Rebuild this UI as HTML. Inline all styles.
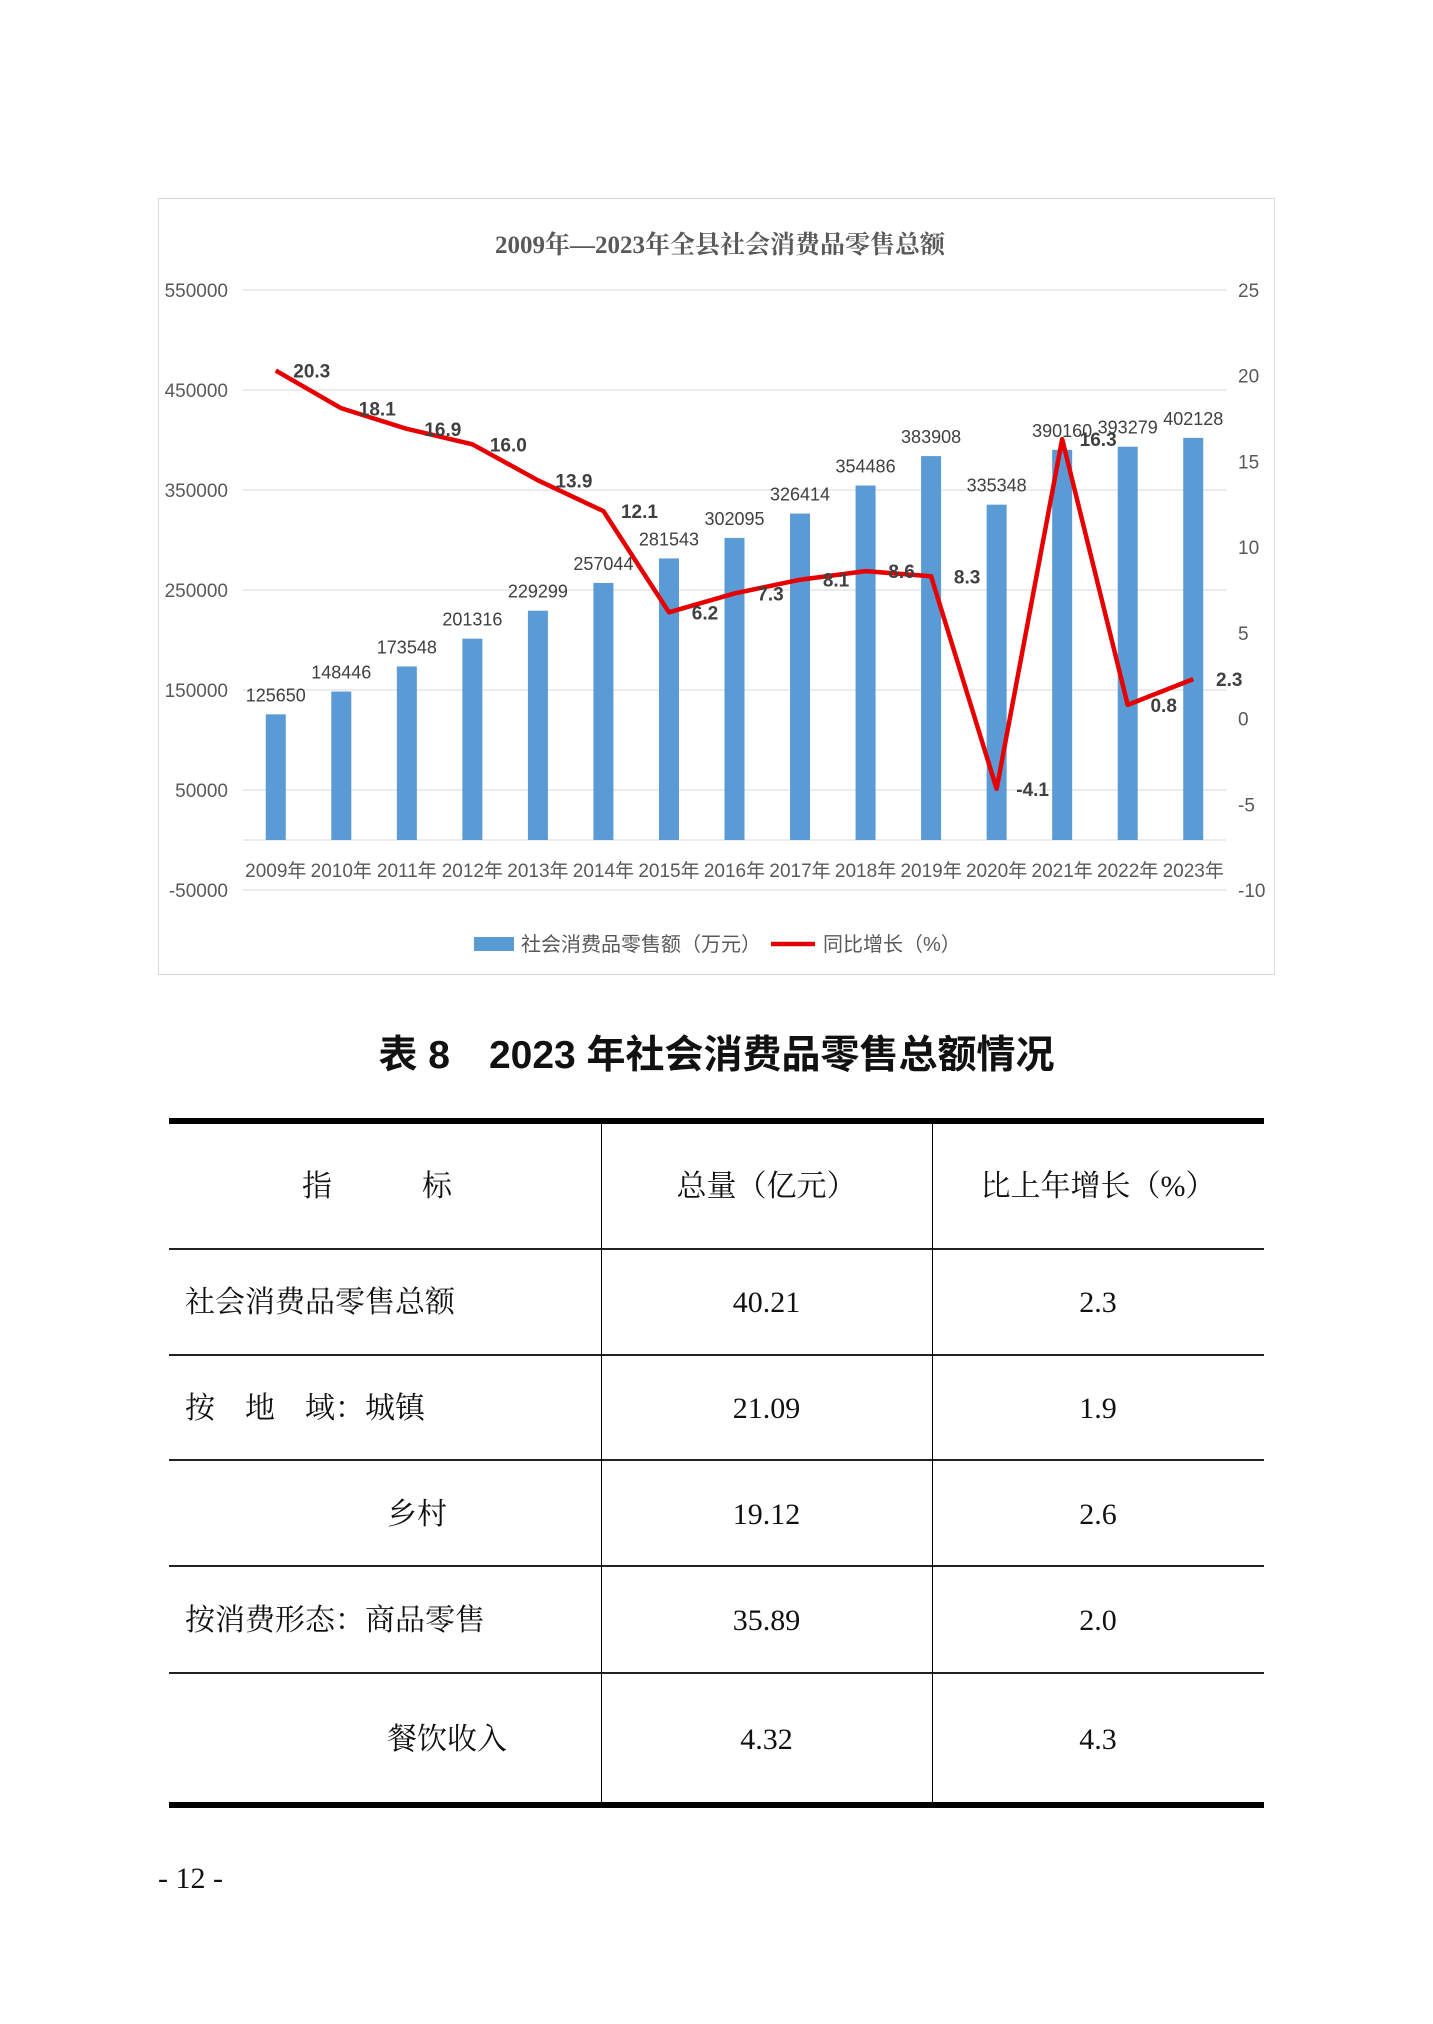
<!DOCTYPE html>
<html><head><meta charset="utf-8"><style>
body{margin:0;background:#fff;}
#page{position:relative;width:1433px;height:2024px;overflow:hidden;background:#fff;font-family:"Liberation Serif","Noto Serif CJK SC",serif;}
.t{position:absolute;font-size:30px;color:#111;white-space:pre;line-height:1;}
.hl{position:absolute;background:#222;}
</style></head><body>
<div id="page">
<svg id="chart" width="1433" height="1000" style="position:absolute;left:0;top:0" font-family="'Liberation Sans','Noto Sans CJK SC',sans-serif"></svg>

<div class="t" style="left:0;width:1433px;text-align:center;top:1036px;font-size:39px;font-weight:bold;font-family:'Liberation Sans','Noto Sans CJK SC',sans-serif;">表 8　2023 年社会消费品零售总额情况</div>

<div>
<div class="hl" style="left:169px;top:1118px;width:1095px;height:6px;background:#000"></div>
<div class="hl" style="left:169px;top:1248px;width:1095px;height:2px"></div>
<div class="hl" style="left:169px;top:1354px;width:1095px;height:2px"></div>
<div class="hl" style="left:169px;top:1459px;width:1095px;height:2px"></div>
<div class="hl" style="left:169px;top:1565px;width:1095px;height:2px"></div>
<div class="hl" style="left:169px;top:1672px;width:1095px;height:2px"></div>
<div class="hl" style="left:169px;top:1802px;width:1095px;height:6px;background:#000"></div>
<div class="hl" style="left:601px;top:1124px;width:1px;height:678px;background:#000"></div>
<div class="hl" style="left:932px;top:1124px;width:1px;height:678px;background:#000"></div>

<div class="t" style="left:302px;top:1172px">指　　　标</div>
<div class="t" style="left:601px;width:331px;text-align:center;top:1172px">总量（亿元）</div>
<div class="t" style="left:932px;width:332px;text-align:center;top:1172px">比上年增长（%）</div>

<div class="t" style="left:185px;top:1288px">社会消费品零售总额</div>
<div class="t" style="left:601px;width:331px;text-align:center;top:1288px">40.21</div>
<div class="t" style="left:932px;width:332px;text-align:center;top:1288px">2.3</div>

<div class="t" style="left:185px;top:1394px">按　地　域：城镇</div>
<div class="t" style="left:601px;width:331px;text-align:center;top:1394px">21.09</div>
<div class="t" style="left:932px;width:332px;text-align:center;top:1394px">1.9</div>

<div class="t" style="left:387px;top:1500px">乡村</div>
<div class="t" style="left:601px;width:331px;text-align:center;top:1500px">19.12</div>
<div class="t" style="left:932px;width:332px;text-align:center;top:1500px">2.6</div>

<div class="t" style="left:185px;top:1606px">按消费形态：商品零售</div>
<div class="t" style="left:601px;width:331px;text-align:center;top:1606px">35.89</div>
<div class="t" style="left:932px;width:332px;text-align:center;top:1606px">2.0</div>

<div class="t" style="left:387px;top:1725px">餐饮收入</div>
<div class="t" style="left:601px;width:331px;text-align:center;top:1725px">4.32</div>
<div class="t" style="left:932px;width:332px;text-align:center;top:1725px">4.3</div>
</div>

<div class="t" style="left:158px;top:1864px">- 12 -</div>
</div>

<script>
const categories = ["2009年","2010年","2011年","2012年","2013年","2014年","2015年","2016年","2017年","2018年","2019年","2020年","2021年","2022年","2023年"];
const salesValues = [125650,148446,173548,201316,229299,257044,281543,302095,326414,354486,383908,335348,390160,393279,402128];
const growthValues = [20.3,18.1,16.9,16.0,13.9,12.1,6.2,7.3,8.1,8.6,8.3,-4.1,16.3,0.8,2.3];
const leftTicks = [550000,450000,350000,250000,150000,50000,-50000];
const rightTicks = [25,20,15,10,5,0,-5,-10];

const NS = "http://www.w3.org/2000/svg";
const svg = document.getElementById("chart");
const plotL = 243, plotR = 1226;
const yL = v => 890 - (v + 50000) * 600 / 600000;
const yR = v => 890 - (v + 10) * 600 / 35;
const step = (plotR - plotL) / categories.length;
const xC = i => plotL + step * (i + 0.5);
function mk(tag, attrs, text){
  const e = document.createElementNS(NS, tag);
  for (const k in attrs) e.setAttribute(k, attrs[k]);
  if (text !== undefined) e.textContent = text;
  svg.appendChild(e);
  return e;
}
let e;
e = mk("rect",{x:158.5,y:198.5,width:1116,height:776,fill:"#fff",stroke:"#d9d9d9"});


e = mk("text",{x:720,y:253,"text-anchor":"middle","font-size":25,"font-weight":"bold",fill:"#595959","font-family":"'Liberation Serif','Noto Serif CJK SC',serif"},"2009年—2023年全县社会消费品零售总额");


leftTicks.forEach(v=>{
  const y = yL(v);
  e = mk("line",{x1:plotL,x2:plotR,y1:y,y2:y,stroke:"#d9d9d9","stroke-width":1});
  
  
  e = mk("text",{x:228,y:y+7,"text-anchor":"end","font-size":19,fill:"#595959"},String(v));
  
  
});
rightTicks.forEach(v=>{
  e = mk("text",{x:1238,y:yR(v)+7,"font-size":19,fill:"#595959"},String(v));
  
  
});
e = mk("line",{x1:plotL,x2:plotR,y1:yL(0),y2:yL(0),stroke:"#d9d9d9","stroke-width":1});


categories.forEach((c,i)=>{
  const v = salesValues[i];
  e = mk("rect",{x:xC(i)-10,y:yL(v),width:20,height:yL(0)-yL(v),fill:"#5b9bd5"});
  
  
  e = mk("text",{x:xC(i),y:yL(v)-13,"text-anchor":"middle","font-size":18,fill:"#404040"},String(v));
  
  
  e = mk("text",{x:xC(i),y:877,"text-anchor":"middle","font-size":19,fill:"#595959"},c);
  
  
});
const pts = growthValues.map((v,i)=>xC(i)+","+yR(v)).join(" ");
e = mk("polyline",{points:pts,fill:"none",stroke:"#e60000","stroke-width":4.5,"stroke-linejoin":"round"});


growthValues.forEach((v,i)=>{
  e = mk("text",{x:xC(i)+36,y:yR(v)+7,"text-anchor":"middle","font-size":19,"font-weight":"bold",fill:"#404040"},v.toFixed(1));
  
  
});
e = mk("rect",{x:474,y:937,width:40,height:14,fill:"#5b9bd5"});


e = mk("text",{x:521,y:951,"font-size":20,fill:"#595959"},"社会消费品零售额（万元）");


e = mk("line",{x1:771,x2:815,y1:944,y2:944,stroke:"#e60000","stroke-width":4.5});


e = mk("text",{x:823,y:951,"font-size":20,fill:"#595959"},"同比增长（%）");


</script>
</body></html>
